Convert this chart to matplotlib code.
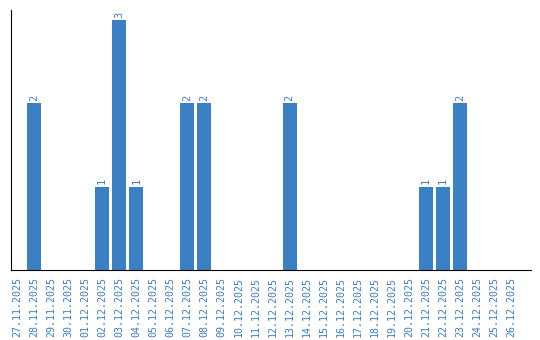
import matplotlib
matplotlib.use("Agg")
import matplotlib.pyplot as plt

# --- dane ---
dni = ["27.11.2025", "28.11.2025", "29.11.2025", "30.11.2025", "01.12.2025",
       "02.12.2025", "03.12.2025", "04.12.2025", "05.12.2025", "06.12.2025",
       "07.12.2025", "08.12.2025", "09.12.2025", "10.12.2025", "11.12.2025",
       "12.12.2025", "13.12.2025", "14.12.2025", "15.12.2025", "16.12.2025",
       "17.12.2025", "18.12.2025", "19.12.2025", "20.12.2025", "21.12.2025",
       "22.12.2025", "23.12.2025", "24.12.2025", "25.12.2025", "26.12.2025"]
liczby = [0, 2, 0, 0, 0, 1, 3, 1, 0, 0, 2, 2, 0, 0, 0,
          0, 2, 0, 0, 0, 0, 0, 0, 0, 1, 1, 2, 0, 0, 0]

kolor = "#3b7fc4"

# --- wykres ---
fig = plt.figure(figsize=(5.4, 3.4), dpi=100)
ax = fig.add_axes([11 / 540, 70 / 340, 520 / 540, 260 / 340])

x = range(len(dni))
ax.bar(x, liczby, width=0.82, color=kolor)

for i in x:
    if liczby[i] > 0:
        ax.text(i, liczby[i] + 0.03, str(liczby[i]), rotation=90, ha="center",
                va="bottom", color=kolor, fontsize=7.5, family="DejaVu Sans Mono")

ax.set_xlim(-0.35, 30.16)
ax.set_ylim(0, 3.12)
ax.set_xticks(list(x))
ax.set_xticklabels(dni, rotation=90, color=kolor, fontsize=7.2, family="DejaVu Sans Mono")
ax.tick_params(axis="x", length=0, pad=5)
ax.set_yticks([])
ax.spines["top"].set_visible(False)
ax.spines["right"].set_visible(False)

fig.savefig("out.png", dpi=100)
